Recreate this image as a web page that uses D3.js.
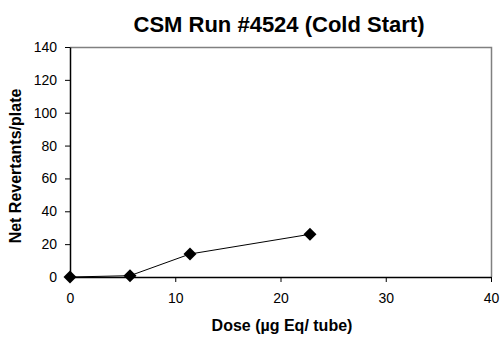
<!DOCTYPE html>
<html>
<head>
<meta charset="utf-8">
<script src="https://cdn.jsdelivr.net/npm/d3@7"></script>
<style>
body { margin: 0; background: #fff; }
text { font-family: "Liberation Sans", Arial, sans-serif; }
</style>
</head>
<body>
<div id="chart"></div>
<script>
// data
var doses = [0, 5.7, 11.4, 22.8];
var revertants = [0, 0.8, 14, 26];
var xTicks = [0, 10, 20, 30, 40];
var yTicks = [0, 20, 40, 60, 80, 100, 120, 140];

var margin = {top: 47, right: 11, bottom: 62, left: 70},
    width = 502 - margin.left - margin.right,
    height = 339 - margin.top - margin.bottom;

var svg = d3.select("#chart")
  .append("svg")
    .attr("width", 502)
    .attr("height", 339);

var g = svg.append("g")
    .attr("transform", "translate(" + margin.left + "," + margin.top + ")");

var x = d3.scaleLinear().domain([0, 40]).range([0, width]);
var y = d3.scaleLinear().domain([0, 140]).range([height, 0]);

// plot area border (grey top/right)
g.append("path")
  .attr("d", "M0,0.5H" + (width + 0.5) + "V" + height)
  .attr("fill", "none")
  .attr("stroke", "#808080")
  .attr("stroke-width", 1.5);

// x axis
var xAxis = g.append("g")
  .attr("transform", "translate(0," + height + ")")
  .call(d3.axisBottom(x).tickValues(xTicks).tickSize(5).tickSizeOuter(0).tickPadding(11));
xAxis.select(".domain").attr("stroke", "#000").attr("stroke-width", 1.5);
xAxis.selectAll("text").attr("font-size", 14).attr("fill", "#000")
  .style("font-family", "'Liberation Sans', Arial, sans-serif");

// y axis
var yAxis = g.append("g")
  .call(d3.axisLeft(y).tickValues(yTicks).tickSize(5).tickSizeOuter(0).tickPadding(8));
yAxis.select(".domain").attr("stroke", "#000").attr("stroke-width", 1.5);
yAxis.selectAll("text").attr("font-size", 14).attr("fill", "#000")
  .style("font-family", "'Liberation Sans', Arial, sans-serif");

var data = doses.map(function(d, i) { return {dose: d, value: revertants[i]}; });

// line
g.append("path")
  .datum(data)
  .attr("fill", "none")
  .attr("stroke", "#000")
  .attr("stroke-width", 1)
  .attr("d", d3.line()
    .x(function(d) { return x(d.dose); })
    .y(function(d) { return y(d.value); }));

// diamonds
var r = 6.5;
g.append("g")
  .selectAll("path")
  .data(data)
  .enter()
  .append("path")
    .attr("d", "M0," + (-r) + "L" + r + ",0L0," + r + "L" + (-r) + ",0Z")
    .attr("transform", function(d) { return "translate(" + x(d.dose) + "," + y(d.value) + ")"; })
    .attr("fill", "#000");

// titles
svg.append("text")
  .attr("x", 279)
  .attr("y", 32)
  .attr("text-anchor", "middle")
  .attr("font-size", 22)
  .attr("font-weight", "bold")
  .text("CSM Run #4524 (Cold Start)");

svg.append("text")
  .attr("x", 282)
  .attr("y", 331)
  .attr("text-anchor", "middle")
  .attr("font-size", 16)
  .attr("font-weight", "bold")
  .text("Dose (µg Eq/ tube)");

svg.append("text")
  .attr("transform", "translate(21,166) rotate(-90)")
  .attr("text-anchor", "middle")
  .attr("font-size", 16)
  .attr("font-weight", "bold")
  .text("Net Revertants/plate");
</script>
</body>
</html>
